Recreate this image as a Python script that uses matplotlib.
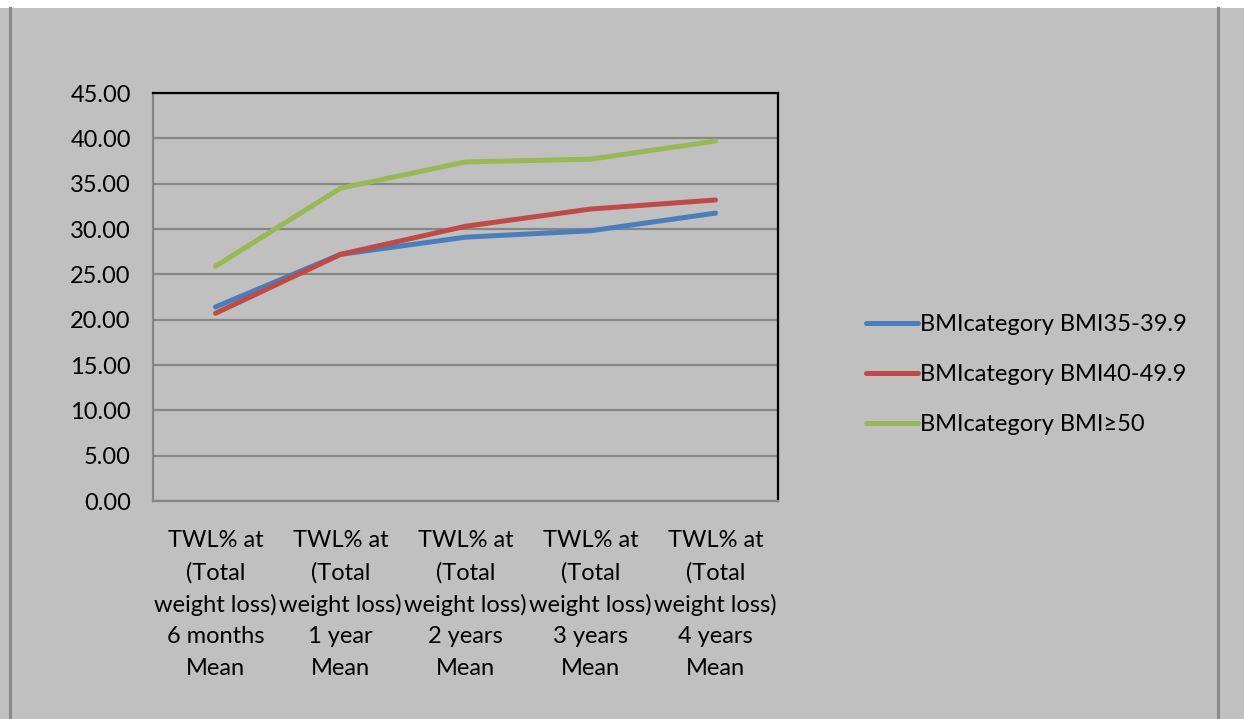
import matplotlib
matplotlib.use("Agg")
import matplotlib.pyplot as plt
from matplotlib.lines import Line2D
from matplotlib.patches import Rectangle

plt.rcParams['font.family'] = ['Lato', 'DejaVu Sans']

categories = [
    "TWL% at\n(Total\nweight loss)\n6 months\nMean",
    "TWL% at\n(Total\nweight loss)\n1 year\nMean",
    "TWL% at\n(Total\nweight loss)\n2 years\nMean",
    "TWL% at\n(Total\nweight loss)\n3 years\nMean",
    "TWL% at\n(Total\nweight loss)\n4 years\nMean",
]
bmi_35_39 = [21.4, 27.2, 29.1, 29.8, 31.75]
bmi_40_49 = [20.7, 27.2, 30.3, 32.2, 33.2]
bmi_50 = [25.9, 34.5, 37.4, 37.7, 39.7]
series_labels = ["BMIcategory BMI35-39.9", "BMIcategory BMI40-49.9", "BMIcategory BMI≥50"]
series_colors = ["#4a7ebb", "#be4b48", "#98b954"]
y_ticks = [0, 5, 10, 15, 20, 25, 30, 35, 40, 45]

W, H = 1244, 719
FS = 17
fig = plt.figure(figsize=(W / 100, H / 100), dpi=100, facecolor="#c0c0c0")

# outer frame: white strip at top, gray vertical rules at the sides
fig.add_artist(Rectangle((0, 1 - 8 / H), 1, 8 / H, transform=fig.transFigure,
                         facecolor="white", edgecolor="none"))
for xpix in (9.5, 1217.5):
    fig.add_artist(Line2D([xpix / W, xpix / W], [0, 1 - 8 / H], transform=fig.transFigure,
                          color="#8a8a8a", lw=2.2))

ax = fig.add_axes([153 / W, 1 - 501 / H, (778 - 153) / W, (501 - 93) / H])
ax.set_facecolor("#c0c0c0")

x = list(range(len(categories)))
for vals, lab, col in zip([bmi_35_39, bmi_40_49, bmi_50], series_labels, series_colors):
    ax.plot(x, vals, color=col, lw=3.6, solid_capstyle="round", solid_joinstyle="round",
            label=lab, zorder=3)

ax.set_xlim(-0.5, len(categories) - 0.5)
ax.set_ylim(0, 45)
ax.set_yticks(y_ticks)
ax.set_yticklabels([f"{v:.2f}" for v in y_ticks], fontsize=FS)
ax.set_xticks(x)
ax.set_xticklabels(categories, fontsize=FS, linespacing=1.6)
ax.tick_params(axis="y", length=0, pad=16)
ax.tick_params(axis="x", length=0, pad=21)
ax.yaxis.grid(True, color="#868686", lw=1.6)
ax.set_axisbelow(True)

for side in ("left", "bottom"):
    ax.spines[side].set_color("#868686")
    ax.spines[side].set_linewidth(1.6)
for side in ("top", "right"):
    ax.spines[side].set_color("black")
    ax.spines[side].set_linewidth(1.6)

leg = fig.legend(loc="upper left", bbox_to_anchor=(866 / W, 1 - 314 / H),
                 frameon=False, fontsize=FS, handlelength=2.2, handletextpad=0.1,
                 labelspacing=1.23, borderaxespad=0, borderpad=0)

fig.savefig("out.png", dpi=100, facecolor=fig.get_facecolor())
